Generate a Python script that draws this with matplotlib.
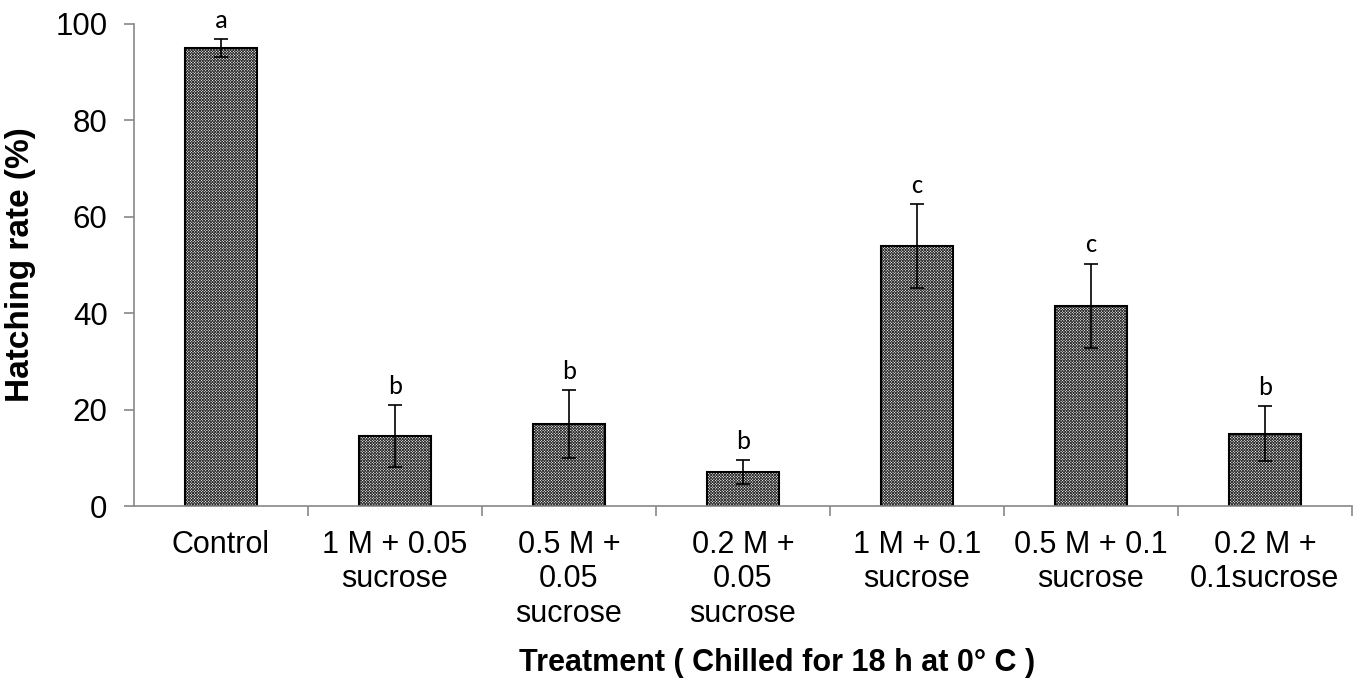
import numpy as np
import matplotlib.pyplot as plt

plt.rcParams['font.family'] = ['Liberation Sans', 'DejaVu Sans']
plt.rcParams['hatch.linewidth'] = 0.6

treatments = ['Control', '1 M + 0.05\nsucrose', '0.5 M +\n0.05\nsucrose', '0.2 M +\n0.05\nsucrose',
              '1 M + 0.1\nsucrose', '0.5 M + 0.1\nsucrose', '0.2 M +\n0.1sucrose']
hatch_rate = [95.0, 14.5, 17.0, 7.0, 54.0, 41.5, 15.0]
errors = [1.8, 6.5, 7.0, 2.5, 8.7, 8.8, 5.7]
letters = ['a', 'b', 'b', 'b', 'c', 'c', 'b']

fig = plt.figure(figsize=(13.6, 6.84), dpi=100)
ax = fig.add_axes([0.0985, 0.2602, 0.8955, 0.7048])

x = np.arange(len(treatments))
w = 0.41
# hatched fill, then black outline on top
ax.bar(x, hatch_rate, w, color='white', edgecolor='#303030', hatch='x' * 12, linewidth=0)
ax.bar(x, hatch_rate, w, fill=False, edgecolor='black', linewidth=1.5)
ax.errorbar(x, hatch_rate, yerr=errors, fmt='none', ecolor='black', elinewidth=1.2,
            capsize=5, capthick=1.2)

for xi, v, e, l in zip(x, hatch_rate, errors, letters):
    ax.text(xi, v + e + 1.5, l, ha='center', va='bottom', fontsize=19, family=['Carlito', 'DejaVu Sans'])

ax.set_xlim(-0.5, len(treatments) - 0.5)
ax.set_ylim(0, 100)
ax.set_yticks([0, 20, 40, 60, 80, 100])
ax.set_xticks(x)
ax.set_xticklabels(treatments, fontsize=22, linespacing=1.2)
ax.set_xticks(np.arange(len(treatments)) + 0.5, minor=True)
ax.tick_params(axis='x', which='major', length=0, pad=17)
ax.tick_params(axis='x', which='minor', length=7, color='#888888', width=1.2, direction='out')
ax.tick_params(axis='y', labelsize=22.5, length=7, color='#888888', width=1.2, pad=12)

for s in ['top', 'right']:
    ax.spines[s].set_visible(False)
for s in ['left', 'bottom']:
    ax.spines[s].set_color('#888888')
    ax.spines[s].set_linewidth(1.2)

ax.set_ylabel('Hatching rate (%)', fontsize=24, fontweight='bold', labelpad=14)
ax.set_xlabel('Treatment ( Chilled for 18 h at 0° C )', fontsize=22, fontweight='bold')
ax.xaxis.set_label_coords(0.528, -0.295)

fig.savefig('out.png', dpi=100)
